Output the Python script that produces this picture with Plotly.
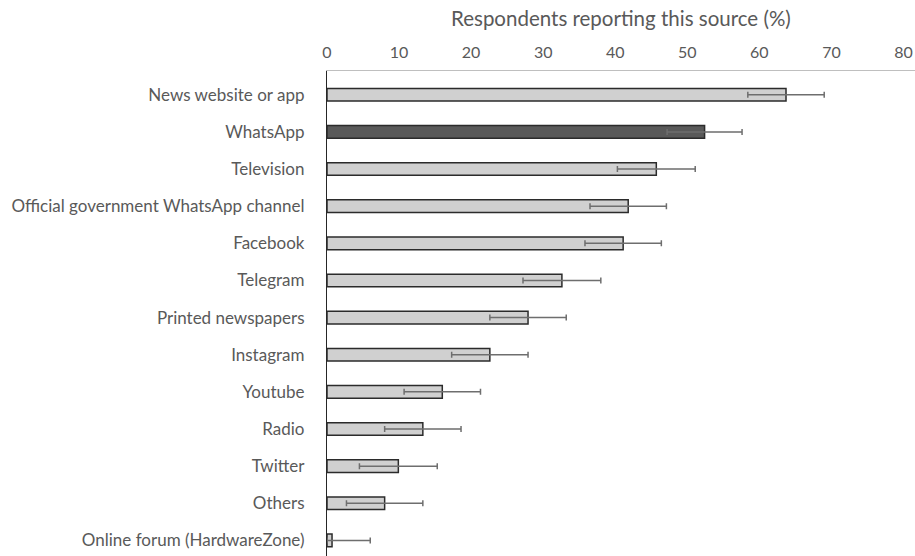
import plotly.graph_objects as go

categories = ["News website or app", "WhatsApp", "Television",
              "Official government WhatsApp channel", "Facebook", "Telegram",
              "Printed newspapers", "Instagram", "Youtube", "Radio", "Twitter",
              "Others", "Online forum (HardwareZone)"]
values = [63.7, 52.4, 45.7, 41.8, 41.1, 32.6, 27.9, 22.6, 16.0, 13.3, 9.9, 8.0, 0.7]
errors = [5.3, 5.2, 5.4, 5.3, 5.3, 5.4, 5.3, 5.3, 5.3, 5.3, 5.4, 5.3, 5.3]
x_ticks = [0, 10, 20, 30, 40, 50, 60, 70, 80]
highlight = "WhatsApp"

err_minus = [min(e, v) for e, v in zip(errors, values)]
colors = ["#595959" if c == highlight else "#d0d0d0" for c in categories]

fig = go.Figure(go.Bar(
    y=categories, x=values, orientation="h",
    marker=dict(color=colors, line=dict(color="#2b2b2b", width=1.5)),
    width=0.34,
    error_x=dict(type="data", symmetric=False, array=errors, arrayminus=err_minus,
                 color="#6e6e6e", thickness=1.5, width=3),
))

fig.update_layout(
    width=915, height=556,
    margin=dict(l=327, r=0, t=71, b=0),
    paper_bgcolor="white", plot_bgcolor="white",
    font=dict(family="Lato", color="#595959", size=17),
    showlegend=False,
    annotations=[dict(text="Respondents reporting this source (%)",
                      xref="paper", yref="paper", x=0.5, y=1, yanchor="middle",
                      yshift=53, showarrow=False,
                      font=dict(family="Lato", size=20.5, color="#595959"))],
)
fig.update_xaxes(side="top", range=[0, 81.6], tickvals=x_ticks,
                 showgrid=False, zeroline=False, showline=True,
                 linecolor="#bfbfbf", linewidth=1, ticks="", ticklabelstandoff=6,
                 tickfont=dict(size=16, color="#595959"))
fig.update_yaxes(type="category", categoryorder="array", categoryarray=categories,
                 range=[12.42, -0.64], showgrid=False, zeroline=False,
                 showline=True, linecolor="#262626", linewidth=1.2, ticks="",
                 ticklabelstandoff=18, tickfont=dict(size=17, color="#595959"))

fig.write_html("out.html")
